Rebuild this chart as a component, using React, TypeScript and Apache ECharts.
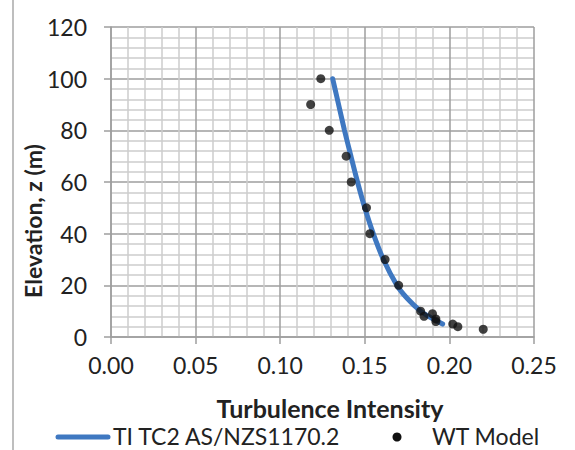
import React, { useEffect, useRef } from "react";
import * as echarts from "echarts";

const xTicks = [0, 0.05, 0.1, 0.15, 0.2, 0.25];
const yTicks = [0, 20, 40, 60, 80, 100, 120];

const lineName = "TI TC2 AS/NZS1170.2";
const lineZ = [5, 7.5, 10, 15, 20, 30, 40, 50, 60, 70, 80, 90, 100];
const lineTI = [0.196, 0.189, 0.183, 0.175, 0.169, 0.161, 0.155, 0.15, 0.1457, 0.1418, 0.138, 0.1345, 0.131];

const wtName = "WT Model";
const wtTI = [0.124, 0.118, 0.129, 0.139, 0.142, 0.151, 0.153, 0.162, 0.17, 0.183, 0.185, 0.19, 0.192, 0.192, 0.202, 0.205, 0.22];
const wtZ = [100, 90, 80, 70, 60, 50, 40, 30, 20, 10, 8, 9, 7, 6, 5, 4, 3];

const xTitle = "Turbulence Intensity";
const yTitle = "Elevation, z (m)";

const FONT = "Lato, 'Open Sans', sans-serif";
const BLUE = "#3F78C1";

export default function App() {
  const ref = useRef<HTMLDivElement>(null);
  useEffect(() => {
    document.body.style.margin = "0";
    const chart = echarts.init(ref.current!, null, { renderer: "svg" });
    const major = "#9E9E9E";
    const minor = "#CDCDCD";
    chart.setOption({
      animation: false,
      backgroundColor: "#ffffff",
      grid: { left: 111, right: 41, top: 27, bottom: 113, containLabel: false },
      xAxis: {
        type: "value",
        min: xTicks[0],
        max: xTicks[xTicks.length - 1],
        interval: 0.05,
        axisLine: { show: true, lineStyle: { color: major, width: 1.5 } },
        axisTick: { show: true, length: 7, lineStyle: { color: major, width: 1.5 } },
        axisLabel: {
          color: "#222",
          fontFamily: FONT,
          fontSize: 23,
          margin: 16,
          showMaxLabel: true,
          showMinLabel: true,
          formatter: (v: number) => v.toFixed(2),
        },
        splitLine: { show: true, lineStyle: { color: major, width: 1.5 } },
        minorTick: { show: false, splitNumber: 5 },
        minorSplitLine: { show: true, lineStyle: { color: minor, width: 1.5 } },
      },
      yAxis: {
        type: "value",
        min: yTicks[0],
        max: yTicks[yTicks.length - 1],
        interval: 20,
        axisLine: { show: true, lineStyle: { color: major, width: 1.5 } },
        axisTick: { show: true, length: 7, lineStyle: { color: major, width: 1.5 } },
        axisLabel: {
          color: "#222",
          fontFamily: FONT,
          fontSize: 23,
          margin: 24,
          showMaxLabel: true,
        },
        splitLine: { show: true, lineStyle: { color: major, width: 1.5 } },
        minorTick: { show: false, splitNumber: 5 },
        minorSplitLine: { show: true, lineStyle: { color: minor, width: 1.5 } },
      },
      series: [
        {
          name: lineName,
          type: "line",
          data: lineTI.map((x, i) => [x, lineZ[i]]),
          smooth: 0.3,
          showSymbol: false,
          lineStyle: { color: BLUE, width: 5, cap: "round" },
          z: 2,
        },
        {
          name: wtName,
          type: "scatter",
          data: wtTI.map((x, i) => [x, wtZ[i]]),
          symbol: "circle",
          symbolSize: 9,
          itemStyle: { color: "#111" },
          z: 3,
        },
      ],
      graphic: [
        { type: "line", shape: { x1: 13, y1: 0, x2: 13, y2: 450 }, style: { stroke: "#A8A8A8", lineWidth: 1.5 } },
        {
          type: "text",
          x: 33,
          y: 221,
          rotation: Math.PI / 2,
          style: { text: yTitle, fontFamily: FONT, fontWeight: "bold", fontSize: 23, fill: "#222", align: "center", verticalAlign: "middle" },
        },
        {
          type: "text",
          x: 330,
          y: 408,
          style: { text: xTitle, fontFamily: FONT, fontWeight: "bold", fontSize: 25, fill: "#222", align: "center", verticalAlign: "middle" },
        },
        { type: "line", shape: { x1: 58, y1: 437, x2: 108, y2: 437 }, style: { stroke: BLUE, lineWidth: 5, lineCap: "round" } },
        {
          type: "text",
          x: 113,
          y: 436,
          style: { text: lineName, fontFamily: FONT, fontSize: 23, lineHeight: 23, fill: "#222", align: "left", verticalAlign: "middle" },
        },
        { type: "circle", shape: { cx: 397, cy: 437, r: 4.5 }, style: { fill: "#111" } },
        {
          type: "text",
          x: 432,
          y: 436,
          style: { text: wtName, fontFamily: FONT, fontSize: 23, lineHeight: 23, fill: "#222", align: "left", verticalAlign: "middle" },
        },
      ],
    });
    return () => chart.dispose();
  }, []);
  return <div ref={ref} style={{ width: 575, height: 450 }} />;
}
